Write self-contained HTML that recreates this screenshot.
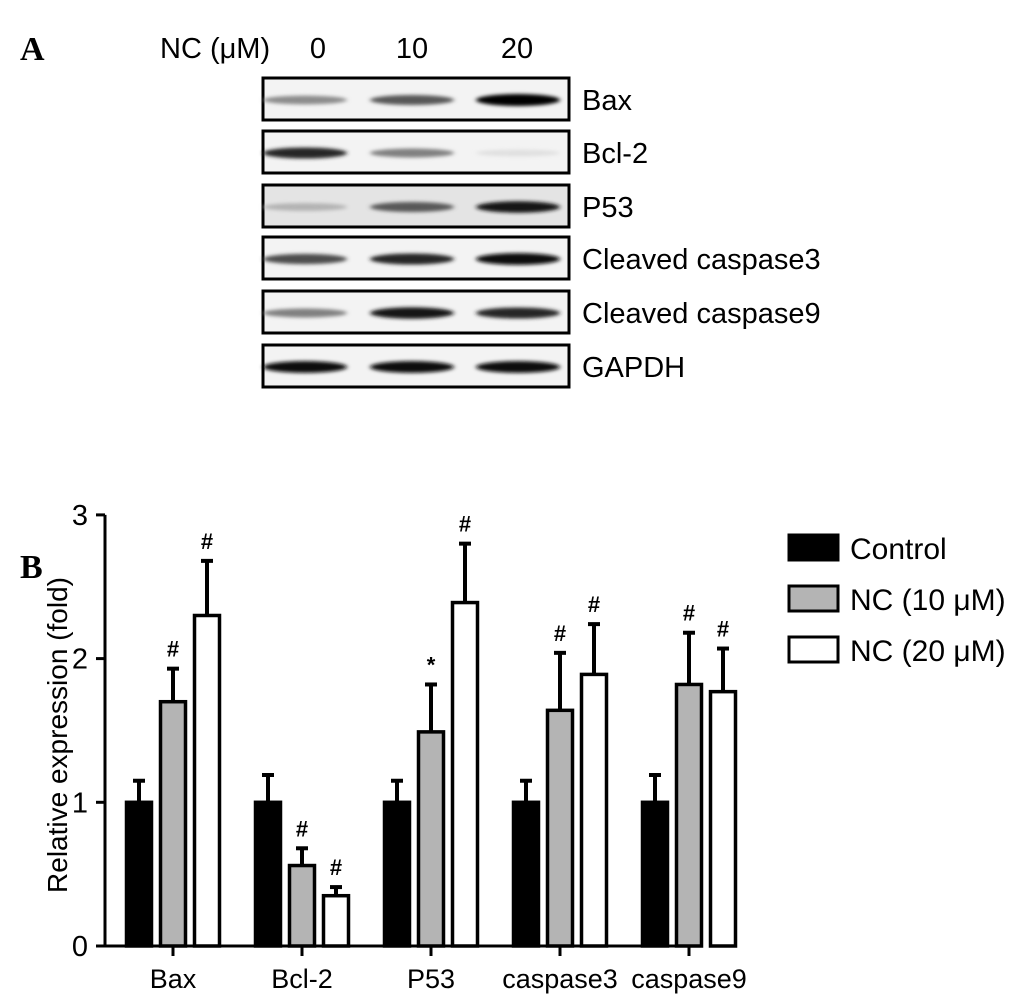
<!DOCTYPE html>
<html><head><meta charset="utf-8"><style>
html,body{margin:0;padding:0;background:#fff;}
svg{display:block;font-family:"Liberation Sans",sans-serif;}
</style></head><body>
<svg id="fig" width="1033" height="1003" viewBox="0 0 1033 1003">
<defs><filter id="bl" x="-20%" y="-200%" width="140%" height="500%"><feGaussianBlur stdDeviation="2.5 1.8"/></filter></defs>
<text x="20" y="60" font-family="Liberation Serif" font-weight="bold" font-size="34">A</text>
<text x="20" y="578" font-family="Liberation Serif" font-weight="bold" font-size="34">B</text>
<g id="blot"></g>
<g id="chart"></g>
</svg>
<script>
const NS="http://www.w3.org/2000/svg";
function mk(t,a,p){const e=document.createElementNS(NS,t);for(const k in a)e.setAttribute(k,a[k]);p.appendChild(e);return e;}
const FS=29;
// ---- Western blot ----
const blotLabels=["Bax","Bcl-2","P53","Cleaved caspase3","Cleaved caspase9","GAPDH"];
const blotIntensity=[[0.45,0.65,1.0],[0.85,0.5,0.12],[0.3,0.65,0.9],[0.7,0.85,0.95],[0.5,0.9,0.85],[0.95,0.95,0.95]];
const doses=["0","10","20"];
const blot=document.getElementById('blot');
const rowTop=[78,131,185,237,291,345];
let t=mk('text',{x:160,y:58,'font-size':FS},blot);t.textContent="NC (\u03bcM)";

const laneX=[318,412,517];
doses.forEach((d,i)=>{const e=mk('text',{x:laneX[i],y:58,'font-size':FS,'text-anchor':'middle'},blot);e.textContent=d;

});
blotLabels.forEach((lab,r)=>{
  const y=rowTop[r];
  const g=mk('g',{},blot);
  
  
  mk('rect',{x:263,y:y,width:306,height:42,fill:r==2?'#e4e4e4':'#f3f3f3',stroke:'#000','stroke-width':3},g);
  const bandX=[305,412,518];
  blotIntensity[r].forEach((v,i)=>{
    const c=Math.round(255*(1-v));
    mk('ellipse',{cx:bandX[i],cy:y+22,rx:42,ry:3+v*3,fill:`rgb(${c},${c},${c})`,filter:'url(#bl)'},g);
  });
  const e=mk('text',{x:582,y:y+32,'font-size':FS},g);e.textContent=lab;
  
  
});
// ---- Bar chart ----
const categories=["Bax","Bcl-2","P53","caspase3","caspase9"];
const control=[1,1,1,1,1];
const controlErr=[0.15,0.19,0.15,0.15,0.19];
const nc10=[1.7,0.56,1.49,1.64,1.82];
const nc10Err=[0.23,0.12,0.33,0.4,0.36];
const nc20=[2.3,0.35,2.39,1.89,1.77];
const nc20Err=[0.38,0.06,0.41,0.35,0.3];
const sig10=["#","#","*","#","#"];
const sig20=["#","#","#","#","#"];
const yTicks=[0,1,2,3];
const ch=document.getElementById('chart');
const y0=946,yUnit=143.7;
const Y=v=>y0-v*yUnit;
const groupX=i=>125+i*129;
const ax=mk('line',{x1:105,y1:Y(3),x2:105,y2:y0,stroke:'#000','stroke-width':3},ch);

const bx=mk('line',{x1:96,y1:y0,x2:700,y2:y0,stroke:'#000','stroke-width':3},ch);

yTicks.forEach(v=>{
  mk('line',{x1:96,y1:Y(v),x2:105,y2:Y(v),stroke:'#000','stroke-width':3},ch);
  const e=mk('text',{x:88,y:Y(v)+10,'font-size':FS,'text-anchor':'end'},ch);e.textContent=v;
  
  
});
const yt=mk('text',{x:0,y:0,'font-size':28,'text-anchor':'middle',transform:'translate(67,735) rotate(-90)'},ch);
yt.textContent="Relative expression (fold)";

const series=[[control,controlErr,'#000',null],[nc10,nc10Err,'#b4b4b4',sig10],[nc20,nc20Err,'#fff',sig20]];
categories.forEach((c,i)=>{
  const gx=groupX(i);
  series.forEach((s,k)=>{
    const x=gx+k*34,v=s[0][i],er=s[1][i];
    const ex=x+14;
    mk('line',{x1:ex,y1:Y(v),x2:ex,y2:Y(v+er),stroke:'#000','stroke-width':4},ch);
    mk('line',{x1:ex-6,y1:Y(v+er),x2:ex+6,y2:Y(v+er),stroke:'#000','stroke-width':4},ch);
    const r=mk('rect',{x:x+1.5,y:Y(v),width:25,height:y0-Y(v),fill:s[2],stroke:'#000','stroke-width':3.5},ch);
    
    
    if(s[3]){const e=mk('text',{x:ex,y:Y(v+er)-12,'font-size':22,'font-weight':'bold','text-anchor':'middle'},ch);e.textContent=s[3][i];
      
      }
  });
  mk('line',{x1:gx+48,y1:y0,x2:gx+48,y2:y0+10,stroke:'#000','stroke-width':3},ch);
  const e=mk('text',{x:gx+48,y:988,'font-size':27,'text-anchor':'middle'},ch);e.textContent=c;
  
  
});
const legendNames=["Control","NC (10 \u03bcM)","NC (20 \u03bcM)"];
const legendFill=['#000','#b4b4b4','#fff'];
legendNames.forEach((n,i)=>{
  const g=mk('g',{},ch);
  
  
  const y=535+i*51;
  mk('rect',{x:789,y:y,width:49,height:25,fill:legendFill[i],stroke:'#000','stroke-width':3},g);
  const e=mk('text',{x:850,y:y+24,'font-size':30},g);e.textContent=n;
});
</script>
</body></html>
